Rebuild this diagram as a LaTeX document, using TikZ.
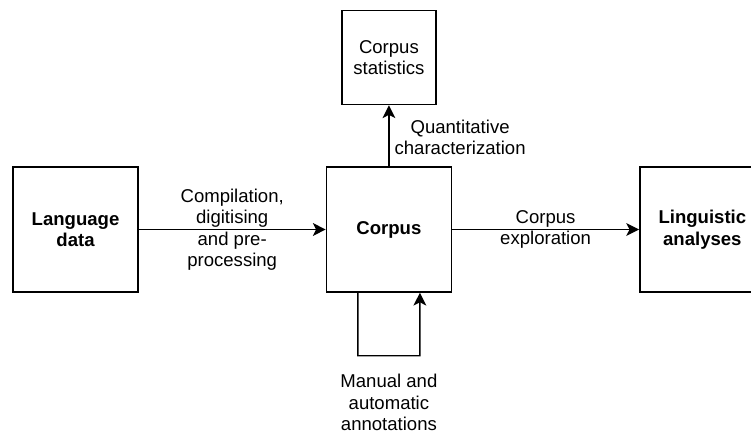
\documentclass[tikz,border=0pt]{standalone}
\usepackage{fontspec}
\setmainfont{Liberation Sans}
\usepackage{tikz}
\usetikzlibrary{arrows.meta, positioning}
\tikzset{%
  >={Stealth[length=0.32cm, width=0.32cm, inset=0.08cm]},
  base/.style = {rectangle, draw = black, line width = 1pt, align = center, font = \fontsize{13.2}{15.3}\selectfont, minimum width = 3.125cm, minimum height = 3.125cm, inner sep = 0pt},
  bold/.style = {base, font = \fontsize{13.2}{15.3}\selectfont\bfseries},
  small/.style = {base, minimum width = 2.35cm, minimum height = 2.35cm},
  label/.style = {align = center, font = \fontsize{13.2}{15.3}\selectfont},
  arrow/.style = {->, line width = 1pt}
}
\begin{document}
\begin{tikzpicture}
    \useasboundingbox (-1.8875,-5.0875) rectangle (16.8875,5.7375);
    \node[bold] at (0,0) (lang) {Language\\data};
    \node[bold, right = 4.675cm of lang] (corpus) {Corpus};
    \node[bold, right = 4.675cm of corpus] (ling) {Linguistic\\analyses};
    \node[small, above = 1.525cm of corpus] (stats) {Corpus\\statistics};
    \coordinate (loopout) at ([xshift=-0.775cm] corpus.south);
    \coordinate (loopin) at ([xshift=0.775cm] corpus.south);
    \draw[arrow] (lang) -- node[label] {Compilation,\\digitising\\and pre-\\processing} (corpus);
    \draw[arrow] (corpus) -- node[label] {Corpus\\exploration} (ling);
    \draw[arrow] (corpus) -- node[label, right, inner sep = 0pt, xshift = 0.125cm, yshift = -0.04cm] {Quantitative\\characterization} (stats);
    \draw[arrow] (loopout) -- ++(0,-1.575) -- node[label, yshift = -1.175cm] {Manual and\\automatic\\annotations} ++(1.55,0) -- (loopin);
  \end{tikzpicture}
\end{document}
